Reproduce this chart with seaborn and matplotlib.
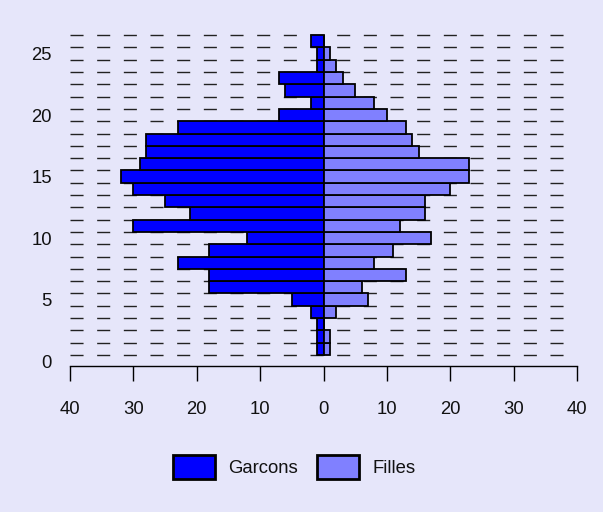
import numpy as np
import pandas as pd
import matplotlib
matplotlib.use("Agg")
import matplotlib.pyplot as plt
from matplotlib.patches import Patch
import seaborn as sns

# ---- data ----
ages = list(range(1, 27))
garcons = [1, 1, 1, 2, 5, 18, 18, 23, 18, 12, 30, 21, 25, 30, 32, 29, 28, 28, 23, 7, 2, 6, 7, 1, 1, 2]
filles = [1, 1, 0, 2, 7, 6, 13, 8, 11, 17, 12, 16, 16, 20, 23, 23, 15, 14, 13, 10, 8, 5, 3, 2, 1, 0]
series_names = ["Garcons", "Filles"]
series_colors = ["#0000FF", "#8080FF"]
xtick_values = [-40, -30, -20, -10, 0, 10, 20, 30, 40]
ytick_values = [0, 5, 10, 15, 20, 25]

df = pd.DataFrame({"age": ages,
                   "Garcons": [-g for g in garcons],
                   "Filles": filles})

sns.set_style("white")
plt.rcParams["font.family"] = ["Liberation Sans", "DejaVu Sans"]
plt.rcParams["text.color"] = "#111111"
bg = "#E6E6FA"

fig = plt.figure(figsize=(6.03, 5.12), dpi=100, facecolor=bg)
W, H = 603, 512
x0, x1 = 70, 577
ytop, ybot = 29, 366
ax = fig.add_axes([x0 / W, 1 - ybot / H, (x1 - x0) / W, (ybot - ytop) / H])
ax.set_facecolor(bg)

# dashed guide lines at bar boundaries
ax.hlines(np.arange(0.5, 27, 1.0), -40, 40, colors="#222222",
          linestyles=(0, (9.4, 9.8)), linewidth=1.0, zorder=0)

for name, col in zip(series_names, series_colors):
    sns.barplot(data=df, x=name, y="age", orient="y", native_scale=True,
                width=1, color=col, saturation=1, edgecolor="black",
                linewidth=1.3, errorbar=None, ax=ax, zorder=2)

ax.set_xlim(-40, 40)
ax.set_ylim(-0.4, 27.0)
ax.set_xticks(xtick_values)
ax.set_xticklabels([str(abs(v)) for v in xtick_values])
ax.set_yticks(ytick_values)
ax.set_yticklabels([str(v) for v in ytick_values])
ax.set_xlabel("")
ax.set_ylabel("")

for s in ["top", "right", "left"]:
    ax.spines[s].set_visible(False)
ax.spines["bottom"].set_color("black")
ax.spines["bottom"].set_linewidth(1.0)
ax.tick_params(axis="x", direction="out", length=11, width=1.0, color="black",
               pad=14, labelsize=13.3, labelcolor="#111111", bottom=True)
ax.tick_params(axis="y", length=0, pad=13, labelsize=13.3, labelcolor="#111111", left=False)

handles = [Patch(facecolor=c, edgecolor="black", linewidth=2.0) for c in series_colors]
fig.legend(handles, series_names, loc="center", bbox_to_anchor=(294 / W, 1 - 467 / H),
           ncol=2, frameon=False, fontsize=13.3, labelcolor="#111111",
           handlelength=2.3, handleheight=1.7,
           handletextpad=0.68, columnspacing=1.05)

fig.savefig("out.png", dpi=100, facecolor=bg)
